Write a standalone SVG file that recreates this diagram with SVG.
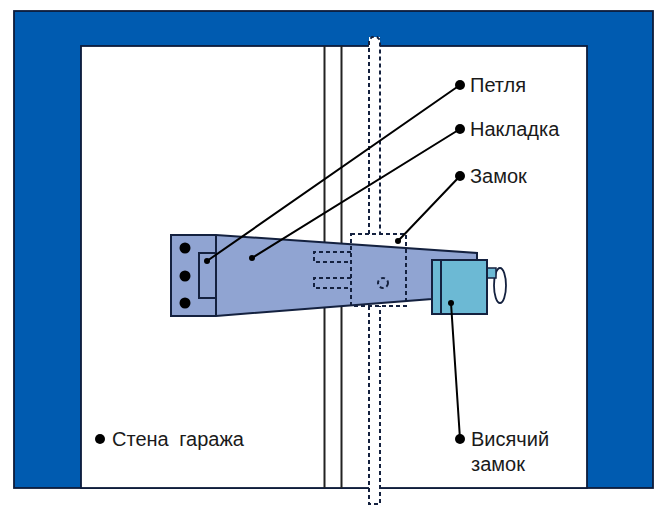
<svg xmlns="http://www.w3.org/2000/svg" width="671" height="511" viewBox="0 0 671 511">
<style>
.ol{stroke:#14213f;stroke-width:2;fill:none}
.dash{stroke:#14213f;stroke-width:2;stroke-dasharray:4 3;fill:none}
.lead{stroke:#000;stroke-width:2;fill:none}
.dot{fill:#000}
text{font-family:"Liberation Sans",Arial,sans-serif;font-size:20px;fill:#1a1a1a}
</style>
<rect width="671" height="511" fill="#fff"/>
<g id="wall"><rect x="14" y="11" width="639" height="477" fill="#005bb0" stroke="#0d1b3a" stroke-width="1.800"/>
<rect x="81" y="46" width="506" height="442" fill="#fff" stroke="#0d1b3a" stroke-width="1.800"/></g>
<g id="door-gap"><path d="M324.500 46V488M341.500 46V488" stroke="#222" stroke-width="2" fill="none"/></g>
<g id="hinge-pin"><path d="M369 37H380V505H369Z" fill="#fff" stroke="none"/>
<path class="dash" d="M369 234V40L372 37H377L380 40V234M369 306V504H380V306"/></g>
<g id="hasp"><path d="M171 235H216L477 253V262L432 299L216 316H171Z" fill="#90a4d2" stroke="#14213f" stroke-width="2"/>
<path class="ol" d="M216 235V316M216 253H199V298H216"/>
<circle cx="185" cy="248" r="5.500" class="dot"/><circle cx="185" cy="276" r="5.500" class="dot"/><circle cx="185" cy="303" r="5.500" class="dot"/>
<path class="dash" d="M351 252H314V262H351M351 278H314V288H351"/>
<rect class="dash" x="351" y="234" width="55" height="72"/>
<circle class="dash" stroke-dasharray="2.500 2" cx="383" cy="283" r="5"/></g>
<g id="padlock"><ellipse cx="500" cy="285.500" rx="6" ry="17.500" fill="#fff" stroke="#14213f" stroke-width="1.800"/>
<rect x="487" y="268" width="9" height="10" fill="#6cb9d4" stroke="#14213f" stroke-width="1.500"/>
<rect x="432" y="260" width="55" height="54" fill="#6cb9d4" stroke="#14213f" stroke-width="2"/>
<path class="ol" d="M441 260V314"/></g>
<g id="connectors">
<path class="lead" d="M207 261L460 85M252 258L460 129M398 241L460 176M451 303L460 439"/>
<circle cx="207" cy="261" r="3" class="dot"/><circle cx="252" cy="258" r="3" class="dot"/><circle cx="398" cy="241" r="3" class="dot"/><circle cx="451" cy="303" r="3" class="dot"/>
</g>
<g id="label-petlya"><circle cx="460" cy="85" r="5" class="dot"/><text x="470" y="92">Петля</text></g>
<g id="label-nakladka"><circle cx="460" cy="129" r="5" class="dot"/><text x="470" y="136">Накладка</text></g>
<g id="label-zamok"><circle cx="460" cy="176" r="5" class="dot"/><text x="470" y="183">Замок</text></g>
<g id="label-visyachiy"><circle cx="460" cy="439" r="5" class="dot"/><text x="471" y="446">Висячий</text><text x="471" y="471">замок</text></g>
<g id="label-stena"><circle cx="100" cy="439" r="5" class="dot"/><text x="112" y="446" word-spacing="5">Стена гаража</text></g>
</svg>
